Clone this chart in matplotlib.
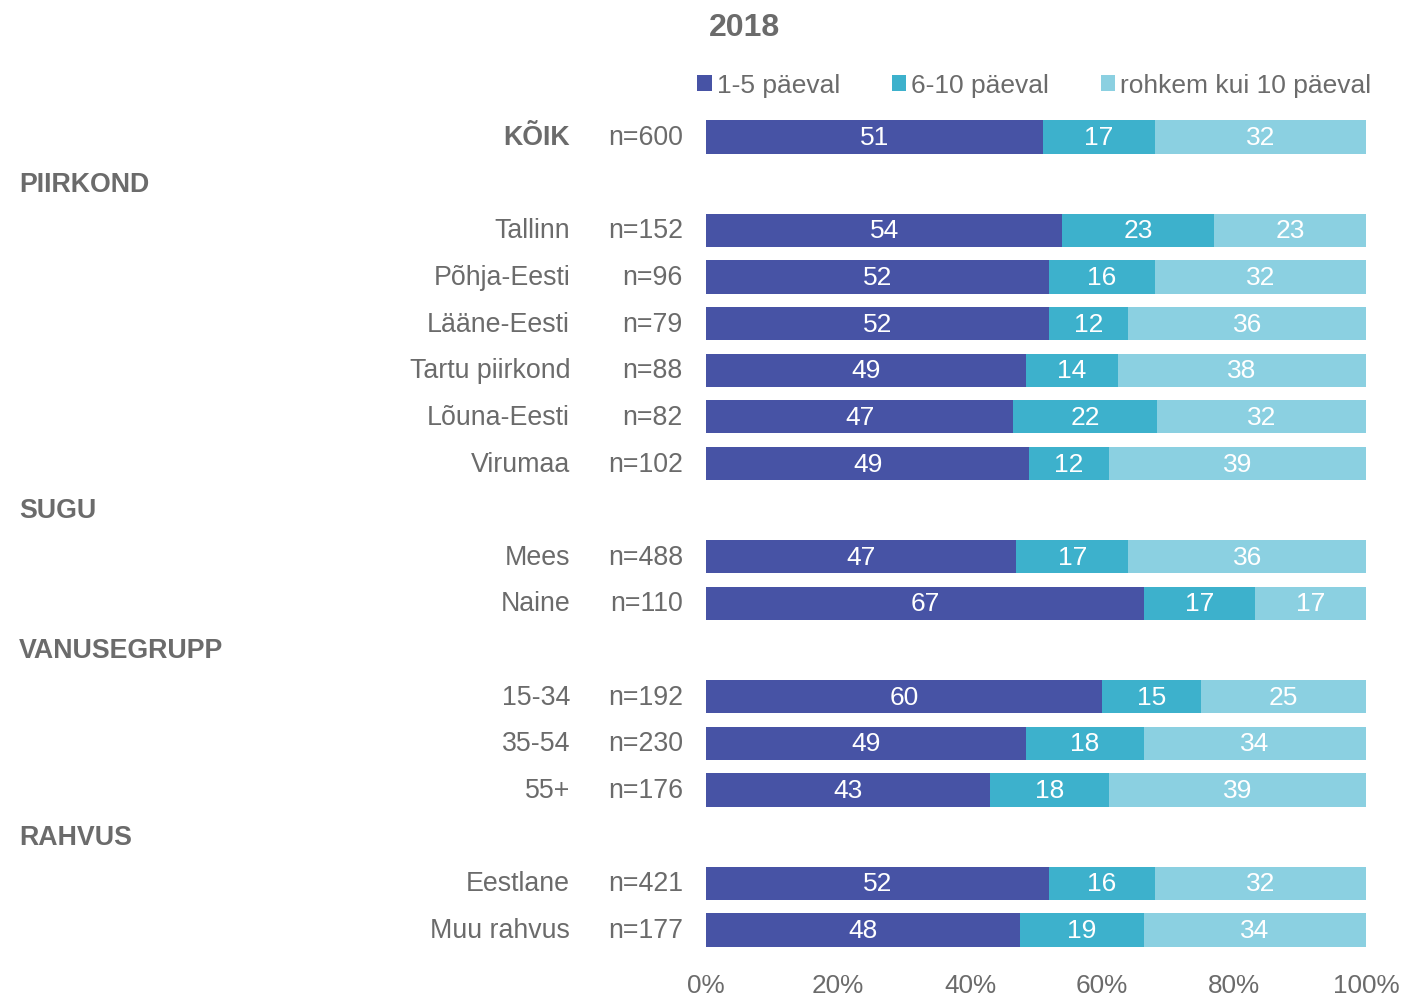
import numpy as np
import matplotlib

matplotlib.use("Agg")
import matplotlib.pyplot as plt  # noqa: E402
from matplotlib.patches import Patch  # noqa: E402

plt.rcParams["font.family"] = ["Liberation Sans", "DejaVu Sans"]

TITLE = "2018"
SERIES = ["1-5 päeval", "6-10 päeval", "rohkem kui 10 päeval"]
COLORS = ["#4753A5", "#3DB1CC", "#8BD0E1"]
TEXT = "#6B6B6B"

labels = ["KÕIK", "Tallinn", "Põhja-Eesti", "Lääne-Eesti", "Tartu piirkond", "Lõuna-Eesti",
          "Virumaa", "Mees", "Naine", "15-34", "35-54", "55+", "Eestlane", "Muu rahvus"]
n_values = [600, 152, 96, 79, 88, 82, 102, 488, 110, 192, 230, 176, 421, 177]
days_1_5 = [51, 54, 52, 52, 49, 47, 49, 47, 67, 60, 49, 43, 52, 48]
days_6_10 = [17, 23, 16, 12, 14, 22, 12, 17, 17, 15, 18, 18, 16, 19]
days_10plus = [32, 23, 32, 36, 38, 32, 39, 36, 17, 25, 34, 39, 32, 34]
sections = ["PIIRKOND", "SUGU", "VANUSEGRUPP", "RAHVUS"]
section_before = [1, 7, 9, 12]  # index in labels the header sits above
x_ticks = [0, 20, 40, 60, 80, 100]

# row positions: each header takes a row of its own
positions = []
header_rows = []
row = 0
for i in range(len(labels)):
    if i in section_before:
        header_rows.append(row)
        row += 1
    positions.append(row)
    row += 1
n_rows = row

values = np.array([days_1_5, days_6_10, days_10plus], dtype=float)
shares = values / values.sum(axis=0) * 100.0

fig = plt.figure(figsize=(14.04, 9.95), dpi=100)
ax = fig.add_axes([706 / 1404, 1 - 954.3 / 995, 660 / 1404, 839.6 / 995])

left = np.zeros(len(labels))
for k in range(3):
    ax.barh(positions, shares[k], left=left, height=0.71, color=COLORS[k], linewidth=0)
    for y, l, w, v in zip(positions, left, shares[k], values[k]):
        ax.text(l + w / 2, y, f"{int(v)}", ha="center", va="center", color="white", fontsize=19)
    left += shares[k]

ax.set_ylim(n_rows - 0.5, -0.5)
ax.set_xlim(0, 100)
ax.set_yticks([])
ax.set_xticks(x_ticks)
ax.set_xticklabels([f"{t}%" for t in x_ticks])
ax.tick_params(axis="x", length=0, pad=14, labelsize=18.8, labelcolor=TEXT)
for spine in ax.spines.values():
    spine.set_visible(False)

trans = ax.get_yaxis_transform()
for i, (y, name, n) in enumerate(zip(positions, labels, n_values)):
    ax.text(-0.206, y, name, transform=trans, ha="right", va="center", fontsize=19.3,
            color=TEXT, fontweight="bold" if i == 0 else "normal")
    ax.text(-0.035, y, f"n={n}", transform=trans, ha="right", va="center", fontsize=19.3, color=TEXT)
for y, name in zip(header_rows, sections):
    ax.text(-1.041, y, name, transform=trans, ha="left", va="center", fontsize=19.3,
            color=TEXT, fontweight="bold")

fig.text(744 / 1404, 1 - 28 / 995, TITLE, ha="center", va="center", fontsize=23,
         fontweight="bold", color=TEXT)

handles = [Patch(facecolor=c, edgecolor="none") for c in COLORS]
fig.legend(handles, SERIES, loc="center left", bbox_to_anchor=(697 / 1404, 1 - 86 / 995),
           ncol=3, frameon=False, fontsize=19, labelcolor=TEXT, borderpad=0, borderaxespad=0,
           handlelength=0.55, handleheight=0.55, handletextpad=0.2, columnspacing=1.95)

fig.savefig("out.png", dpi=100)
